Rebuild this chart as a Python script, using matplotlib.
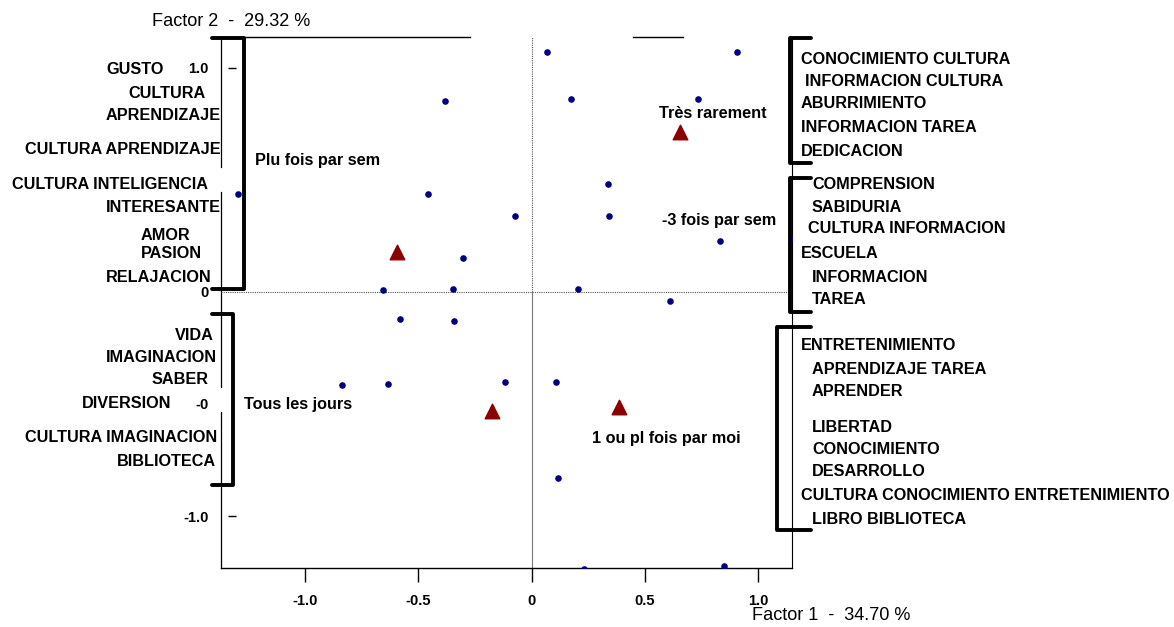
import matplotlib
matplotlib.use("Agg")
import matplotlib.pyplot as plt
from matplotlib.lines import Line2D

plt.rcParams['font.family'] = ['Liberation Sans', 'DejaVu Sans']

W, H = 1174, 627

# ---------------- data ----------------
dots_x = [0.07, 0.907, -0.383, 0.176, 0.736, 0.339, -0.458, -1.295, -0.075, 0.344,
          0.833, 1.154, -0.304, 0.203, -0.656, -0.348, 0.612, -0.581, -0.344,
          -0.115, 0.106, -0.837, -0.634, 0.119, 0.233, 0.850]
dots_y = [1.071, 1.071, 0.853, 0.862, 0.862, 0.482, 0.4375, 0.4375, 0.339, 0.339,
          0.228, 0.241, 0.152, 0.013, 0.009, 0.013, -0.04, -0.121, -0.129,
          -0.402, -0.402, -0.415, -0.411, -0.830, -1.237, -1.223]

cat_x = [0.656, -0.595, -0.176, 0.388]
cat_y = [0.714, 0.179, -0.531, -0.513]
cat_names = ["Très rarement", "Plu fois par sem", "Tous les jours", "1 ou pl fois par moi"]
extra_cat = "-3 fois par sem"

xticks = [-1.0, -0.5, 0, 0.5, 1.0]
xtick_labels = ["-1.0", "-0.5", "0", "0.5", "1.0"]
yticks = [1.0, 0, -0.5, -1.0]
ytick_labels = ["1.0", "0", "-0", "-1.0"]

title_y = "Factor 2  -  29.32 %"
title_x = "Factor 1  -  34.70 %"

left_words = ["GUSTO", "CULTURA", "APRENDIZAJE", "CULTURA APRENDIZAJE",
              "CULTURA INTELIGENCIA", "INTERESANTE", "AMOR", "PASION", "RELAJACION",
              "VIDA", "IMAGINACION", "SABER", "DIVERSION", "CULTURA IMAGINACION",
              "BIBLIOTECA"]
right_words = ["CONOCIMIENTO CULTURA", "INFORMACION CULTURA", "ABURRIMIENTO",
               "INFORMACION TAREA", "DEDICACION", "COMPRENSION", "SABIDURIA",
               "CULTURA INFORMACION", "ESCUELA", "INFORMACION", "TAREA",
               "ENTRETENIMIENTO", "APRENDIZAJE TAREA", "APRENDER", "LIBERTAD",
               "CONOCIMIENTO", "DESARROLLO", "CULTURA CONOCIMIENTO ENTRETENIMIENTO",
               "LIBRO BIBLIOTECA"]

# ---------------- layout (pixels) ----------------
left_pos = [(106, 70), (128, 93), (106, 115), (25, 150), (12, 185), (106, 207),
            (141, 236), (141, 254), (106, 277), (175, 335), (106, 357), (152, 380),
            (82, 404), (25, 438), (117, 461)]
right_pos = [(801, 59), (805, 81), (801, 103), (801, 128), (801, 151), (812, 185),
             (812, 208), (808, 229), (801, 254), (812, 277), (812, 299), (801, 346),
             (812, 369), (812, 391), (812, 427), (812, 449), (812, 472), (801, 496),
             (812, 519)]
cat_pos = [(659, 113), (255, 161), (244, 404), (592, 438)]
extra_pos = (662, 220)

fig = plt.figure(figsize=(W / 100, H / 100), dpi=100)
ax_l, ax_r, ax_t, ax_b = 221, 792, 37, 568
ax = fig.add_axes([ax_l / W, 1 - ax_b / H, (ax_r - ax_l) / W, (ax_b - ax_t) / H])
ax.set_xlim(-1.371, 1.150)
ax.set_ylim(-1.232, 1.138)

for s in ['top', 'left']:
    ax.spines[s].set_visible(False)
ax.spines['bottom'].set_linewidth(1.0)
ax.spines['right'].set_linewidth(0.8)

# left spine with gaps
yt = ax.get_yaxis_transform()
for y0, y1 in [(0.558, 1.138), (-0.424, 0.446), (-1.232, -0.536)]:
    ax.plot([0, 0], [y0, y1], color='black', lw=0.9, transform=yt, clip_on=False)
# top spine segments
xt = ax.get_xaxis_transform()
for x0, x1 in [(-1.371, -0.272), (0.448, 0.669)]:
    ax.plot([x0, x1], [1, 1], color='black', lw=1.0, transform=xt, clip_on=False)

# reference lines
ax.axhline(0, color='#555555', lw=0.8, ls=(0, (1, 1)))
ax.plot([0, 0], [0, 1.138], color='#555555', lw=0.8, ls=(0, (1, 1)))
ax.plot([0, 0], [-1.232, 0], color='#777777', lw=0.8)

# points
ax.scatter(dots_x, dots_y, s=14, color='#00007f', zorder=3, clip_on=True)
ax.scatter(cat_x, cat_y, s=110, marker='^', color='#8b0000', zorder=4)

# ticks
ax.set_xticks(xticks)
ax.set_xticklabels(xtick_labels, fontweight='bold', fontsize=10.5)
ax.tick_params(axis='x', direction='out', length=10, width=1, pad=9)
ax.set_yticks(yticks)
ax.set_yticklabels(ytick_labels, fontweight='bold', fontsize=10.5)
ax.tick_params(axis='y', length=0, pad=9)
ax.hlines([1.0, -1.0], 0.012, 0.027, transform=yt, color='black', lw=1)

# titles
fig.text(152 / W, 1 - 22 / H, title_y, fontsize=13.1, va='center', ha='left')
fig.text(752 / W, 1 - 615 / H, title_x, fontsize=13.1, va='center', ha='left')

def ptext(txt, pos, **kw):
    fig.text(pos[0] / W, 1 - pos[1] / H, txt, fontsize=11.7, fontweight='bold',
             va='center', ha='left', **kw)

for t, p in zip(left_words, left_pos):
    ptext(t, p)
for t, p in zip(right_words, right_pos):
    ptext(t, p)
for t, p in zip(cat_names, cat_pos):
    ptext(t, p)
ptext(extra_cat, extra_pos)

def bracket(xv, ytop, ybot, xarm):
    xs = [xarm, xv, xv, xarm]
    ys = [ytop, ytop, ybot, ybot]
    fig.add_artist(Line2D([x / W for x in xs], [1 - y / H for y in ys],
                          color='black', lw=2.8, solid_joinstyle='round',
                          solid_capstyle='round'))

bracket(244, 38, 289, 212)
bracket(233, 314, 485, 212)
bracket(790, 38, 163, 811)
bracket(790, 178, 312, 811)
bracket(777, 327, 530, 811)

fig.savefig("out.png", dpi=100)
